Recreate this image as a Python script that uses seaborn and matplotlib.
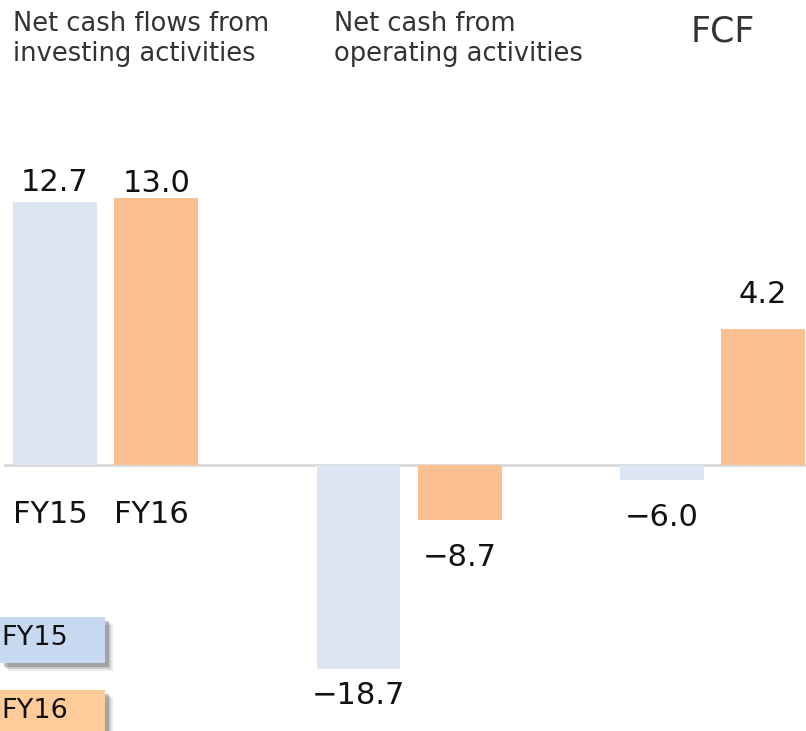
import matplotlib
matplotlib.use("Agg")
import matplotlib.pyplot as plt
import matplotlib.patches as mpatches
import seaborn as sb
import pandas as pd

# data
groups = ["Net cash flows from\ninvesting activities",
          "Net cash from\noperating activities",
          "FCF"]
years = ["FY15", "FY16"]
fy15_labels = [12.7, -18.7, -6.0]
fy16_labels = [13.0, -8.7, 4.2]
# drawn bar lengths (the bars are not to scale with their labels)
fy15_heights = [12.7, -9.85, -0.72]
fy16_heights = [12.9, -2.65, 6.57]

c15 = "#DCE6F2"
c16 = "#FAC090"
leg15 = "#C6D9F1"
leg16 = "#FFCC99"

df = pd.DataFrame({
    "group": groups * 2,
    "year": [years[0]] * 3 + [years[1]] * 3,
    "height": fy15_heights + fy16_heights,
    "label": fy15_labels + fy16_labels,
})

W, H = 806, 731
fig = plt.figure(figsize=(W / 100, H / 100), dpi=100)
ax = fig.add_axes([0, 0, 1, 1])
sb.barplot(data=df, x="group", y="height", hue="year", palette=[c15, c16],
           width=2 / 3, gap=0.17, saturation=1, legend=False, ax=ax)
ax.set_xlim(-0.348, 2.308)
ax.set_ylim(-12.85, 22.46)
ax.axis("off")
ax.axhline(0, xmin=5 / W, xmax=1, color="#D9D9D9", lw=2, zorder=0)

# value labels, gap from bar end in px
label_gap = {0: 11, 3: 6, 1: 13, 4: 25, 2: 25, 5: 26}
for i, (p, val) in enumerate(zip(ax.patches, df["label"])):
    xc = p.get_x() + p.get_width() / 2
    h = p.get_height()
    txt = f"{val:.1f}".replace("-", "\u2212")
    g = label_gap[i] * 0.72
    if h >= 0:
        ax.annotate(txt, (xc, h), xytext=(0, g), textcoords="offset points",
                    ha="center", va="baseline", fontsize=22, color="#111111")
    else:
        ax.annotate(txt, (xc, h), xytext=(0, -g + 1), textcoords="offset points",
                    ha="center", va="top", fontsize=22, color="#111111")

# year labels under the first group
for p, yr in [(ax.patches[0], years[0]), (ax.patches[3], years[1])]:
    ax.annotate(yr, (p.get_x(), 0), xytext=(0, -35 * 0.72), textcoords="offset points",
                ha="left", va="top", fontsize=22, color="#111111")

# group titles
fig.text(13 / W, 1 - 11 / H, groups[0], ha="left", va="top", fontsize=18.5,
         color="#333333", linespacing=1.22)
fig.text(334 / W, 1 - 11 / H, groups[1], ha="left", va="top", fontsize=18.5,
         color="#333333", linespacing=1.22)
fig.text(723 / W, 1 - 15 / H, groups[2], ha="center", va="top", fontsize=25,
         color="#333333")

# legend boxes with soft shadow
for (y0, y1), col, yr in [((617, 663), leg15, years[0]), ((690, 736), leg16, years[1])]:
    for k, a in [(8, 0.1), (6, 0.18), (4, 0.3)]:
        fig.patches.append(mpatches.Rectangle(
            (k / W, 1 - (y1 + k) / H), 105 / W, (y1 - y0) / H,
            transform=fig.transFigure, facecolor="#444444", alpha=a,
            edgecolor="none"))
    fig.patches.append(mpatches.Rectangle(
        (0, 1 - y1 / H), 105 / W, (y1 - y0) / H,
        transform=fig.transFigure, facecolor=col, edgecolor="none"))
    fig.text(1 / W, 1 - (y0 + 21) / H, yr, ha="left", va="center",
             fontsize=19.5, color="#111111")

fig.savefig("out.png", dpi=100)
